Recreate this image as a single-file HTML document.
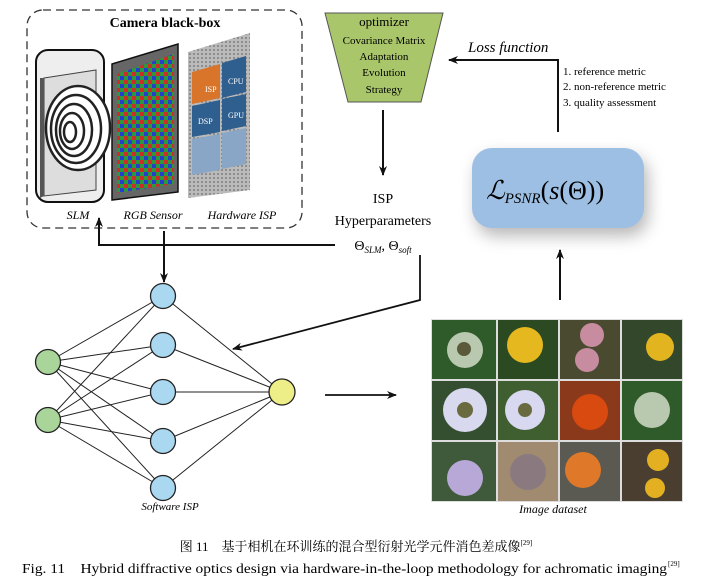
<!DOCTYPE html>
<html><head><meta charset="utf-8"><style>
body{margin:0;background:#fff;width:712px;height:583px;overflow:hidden}
svg text{font-family:"Liberation Serif","Noto Serif CJK SC",serif}
</style></head><body>
<svg width="712" height="583" viewBox="0 0 712 583" xmlns="http://www.w3.org/2000/svg">
<defs>
<marker id="a" markerWidth="10" markerHeight="8" refX="9" refY="4" orient="auto" markerUnits="userSpaceOnUse"><path d="M0,0 L10,4 L0,8 L3,4z" fill="#111"/></marker>
<filter id="sh" x="-30%" y="-40%" width="160%" height="180%"><feGaussianBlur stdDeviation="8"/></filter>
<pattern id="bayer" width="8" height="8" patternUnits="userSpaceOnUse"><rect width="4" height="4" fill="#2a9b3a"/><rect x="4" width="4" height="4" fill="#d02a2a"/><rect y="4" width="4" height="4" fill="#2a3ccf"/><rect x="4" y="4" width="4" height="4" fill="#2a9b3a"/></pattern>
<pattern id="dots" width="4" height="4" patternUnits="userSpaceOnUse"><rect width="4" height="4" fill="#bbb"/><circle cx="2" cy="2" r="1.1" fill="#888"/></pattern>
</defs>
<rect x="27" y="10" width="275" height="218" rx="16" fill="none" stroke="#333" stroke-width="1.3" stroke-dasharray="8,5"/>
<text x="165" y="27" font-size="14" font-weight="bold" text-anchor="middle">Camera black-box</text>
<rect x="36" y="50" width="68" height="152" rx="12" fill="#eee" stroke="#111" stroke-width="2"/>
<polygon points="44,78 96,70 96,190 44,196" fill="#ddd" stroke="#444"/>
<g fill="none" stroke="#222" stroke-width="2.5">
<ellipse cx="78" cy="128" rx="32" ry="42" fill="#fff"/>
<ellipse cx="76" cy="129" rx="25" ry="34"/><ellipse cx="74" cy="130" rx="18" ry="26"/><ellipse cx="72" cy="131" rx="12" ry="18"/><ellipse cx="70" cy="132" rx="6" ry="10"/></g>
<polygon points="40,78 44,78 44,196 40,198" fill="#555"/>
<polygon points="112,64 178,44 178,192 112,200" fill="#666" stroke="#111" stroke-width="1.5"/>
<polygon points="117,74 174,54 174,184 117,193" fill="url(#bayer)"/>
<polygon points="188,52 250,33 250,190 188,198" fill="url(#dots)"/>
<polygon points="192,72 220,64 220,98 192,104" fill="#d9752b"/>
<polygon points="222,63 246,56 246,92 222,98" fill="#2f5f8e"/>
<polygon points="192,106 220,100 220,132 192,137" fill="#2f5f8e"/>
<polygon points="222,99 246,94 246,126 222,131" fill="#2f5f8e"/>
<polygon points="192,139 220,134 220,170 192,175" fill="#8aa6c6"/>
<polygon points="222,133 246,128 246,164 222,169" fill="#8aa6c6"/>
<text x="205" y="92" font-size="8" fill="#fff" font-family="Liberation Sans">ISP</text>
<text x="228" y="84" font-size="8" fill="#fff" font-family="Liberation Sans">CPU</text>
<text x="198" y="124" font-size="8" fill="#fff" font-family="Liberation Sans">DSP</text>
<text x="228" y="118" font-size="8" fill="#fff" font-family="Liberation Sans">GPU</text>
<text x="78" y="219" font-size="12" font-style="italic" text-anchor="middle">SLM</text>
<text x="153" y="219" font-size="12" font-style="italic" text-anchor="middle">RGB Sensor</text>
<text x="242" y="219" font-size="12" font-style="italic" text-anchor="middle">Hardware ISP</text>
<polygon points="325,13 443,13 421,102 348,102" fill="#a9c66a" stroke="#555"/>
<g font-size="11" text-anchor="middle"><text x="384" y="26" font-size="13">optimizer</text><text x="384" y="44">Covariance Matrix</text><text x="384" y="60">Adaptation</text><text x="384" y="76">Evolution</text><text x="384" y="93">Strategy</text></g>
<line x1="383" y1="110" x2="383" y2="175" stroke="#111" stroke-width="2" marker-end="url(#a)"/>
<g text-anchor="middle" font-size="14"><text x="383" y="203">ISP</text><text x="383" y="225">Hyperparameters</text></g>
<text x="383" y="250" font-size="14" text-anchor="middle">Θ<tspan font-size="9" font-style="italic" dy="3">SLM</tspan><tspan dy="-3">, Θ</tspan><tspan font-size="9" font-style="italic" dy="3">soft</tspan></text>
<polyline points="335,245 99,245 99,218" fill="none" stroke="#111" stroke-width="2" marker-end="url(#a)"/>
<line x1="164" y1="231" x2="164" y2="282" stroke="#111" stroke-width="2" marker-end="url(#a)"/>
<polyline points="420,255 420,300 233,349" fill="none" stroke="#111" stroke-width="1.8" marker-end="url(#a)"/>
<polyline points="558,132 558,60 449,60" fill="none" stroke="#111" stroke-width="2" marker-end="url(#a)"/>
<text x="468" y="52" font-size="15" font-style="italic">Loss function</text>
<g font-size="11"><text x="563" y="75">1. reference metric</text><text x="563" y="90">2. non-reference metric</text><text x="563" y="106">3. quality assessment</text></g>
<rect x="476" y="156" width="172" height="80" rx="20" fill="#888" opacity="0.6" filter="url(#sh)"/>
<rect x="472" y="148" width="172" height="80" rx="20" fill="#9dbfe3"/>
<text x="486" y="199" font-size="26"><tspan font-style="italic">ℒ</tspan><tspan font-size="15" font-style="italic" dy="4">PSNR</tspan><tspan dy="-4">(<tspan font-style="italic">s</tspan>(Θ))</tspan></text>
<line x1="560" y1="300" x2="560" y2="250" stroke="#111" stroke-width="2" marker-end="url(#a)"/>
<g stroke="#222" stroke-width="1">
<line x1="48" y1="362" x2="163" y2="296"/><line x1="48" y1="362" x2="163" y2="345"/><line x1="48" y1="362" x2="163" y2="392"/><line x1="48" y1="362" x2="163" y2="441"/><line x1="48" y1="362" x2="163" y2="488"/>
<line x1="48" y1="420" x2="163" y2="296"/><line x1="48" y1="420" x2="163" y2="345"/><line x1="48" y1="420" x2="163" y2="392"/><line x1="48" y1="420" x2="163" y2="441"/><line x1="48" y1="420" x2="163" y2="488"/>
<line x1="282" y1="392" x2="163" y2="296"/><line x1="282" y1="392" x2="163" y2="345"/><line x1="282" y1="392" x2="163" y2="392"/><line x1="282" y1="392" x2="163" y2="441"/><line x1="282" y1="392" x2="163" y2="488"/>
</g>
<g stroke="#222" stroke-width="1.3">
<circle cx="48" cy="362" r="12.5" fill="#a9d49a"/><circle cx="48" cy="420" r="12.5" fill="#a9d49a"/>
<circle cx="163" cy="296" r="12.5" fill="#a9d8f0"/><circle cx="163" cy="345" r="12.5" fill="#a9d8f0"/><circle cx="163" cy="392" r="12.5" fill="#a9d8f0"/><circle cx="163" cy="441" r="12.5" fill="#a9d8f0"/><circle cx="163" cy="488" r="12.5" fill="#a9d8f0"/>
<circle cx="282" cy="392" r="13" fill="#eeee88"/></g>
<text x="170" y="510" font-size="11" font-style="italic" text-anchor="middle">Software ISP</text>
<line x1="325" y1="395" x2="396" y2="395" stroke="#111" stroke-width="1.8" marker-end="url(#a)"/>
<rect x="431" y="319" width="252" height="183" fill="#ddd"/>
<g>
<rect x="432" y="320" width="64" height="59" fill="#2f5a2a"/><circle cx="465" cy="350" r="18" fill="#b9c9b0"/><circle cx="464" cy="349" r="7" fill="#5a5a3a"/>
<rect x="498" y="320" width="60" height="59" fill="#2c4a22"/><circle cx="525" cy="345" r="18" fill="#e6b820"/>
<rect x="560" y="320" width="60" height="59" fill="#4a4a30"/><circle cx="592" cy="335" r="12" fill="#c88ca0"/><circle cx="587" cy="360" r="12" fill="#c88ca0"/>
<rect x="622" y="320" width="60" height="59" fill="#33472a"/><circle cx="660" cy="347" r="14" fill="#e2b520"/>
<rect x="432" y="381" width="64" height="59" fill="#344f30"/><circle cx="465" cy="410" r="22" fill="#d8d8ee"/><circle cx="465" cy="410" r="8" fill="#6a6a40"/>
<rect x="498" y="381" width="60" height="59" fill="#3f5f30"/><circle cx="525" cy="410" r="20" fill="#d8d8f0"/><circle cx="525" cy="410" r="7" fill="#6a6a40"/>
<rect x="560" y="381" width="60" height="59" fill="#8a3a1a"/><circle cx="590" cy="412" r="18" fill="#d84a10"/>
<rect x="622" y="381" width="60" height="59" fill="#2f5a2a"/><circle cx="652" cy="410" r="18" fill="#b9c9b0"/>
<rect x="432" y="442" width="64" height="59" fill="#3e5a3a"/><circle cx="465" cy="478" r="18" fill="#b8a8d8"/>
<rect x="498" y="442" width="60" height="59" fill="#a08a70"/><circle cx="528" cy="472" r="18" fill="#8a7a80"/>
<rect x="560" y="442" width="60" height="59" fill="#5a5a52"/><circle cx="583" cy="470" r="18" fill="#e0782a"/>
<rect x="622" y="442" width="60" height="59" fill="#4a3e30"/><circle cx="658" cy="460" r="11" fill="#e2b020"/><circle cx="655" cy="488" r="10" fill="#e2b020"/>
</g>
<text x="553" y="513" font-size="12" font-style="italic" text-anchor="middle">Image dataset</text>
<text x="356" y="551" font-size="13" text-anchor="middle">图 11　基于相机在环训练的混合型衍射光学元件消色差成像<tspan font-size="7" dy="-6">[29]</tspan></text>
<text x="22" y="573" font-size="14" textLength="645" lengthAdjust="spacingAndGlyphs">Fig. 11　Hybrid diffractive optics design via hardware-in-the-loop methodology for achromatic imaging</text>
<text x="668" y="566" font-size="7">[29]</text>
</svg>
</body></html>
